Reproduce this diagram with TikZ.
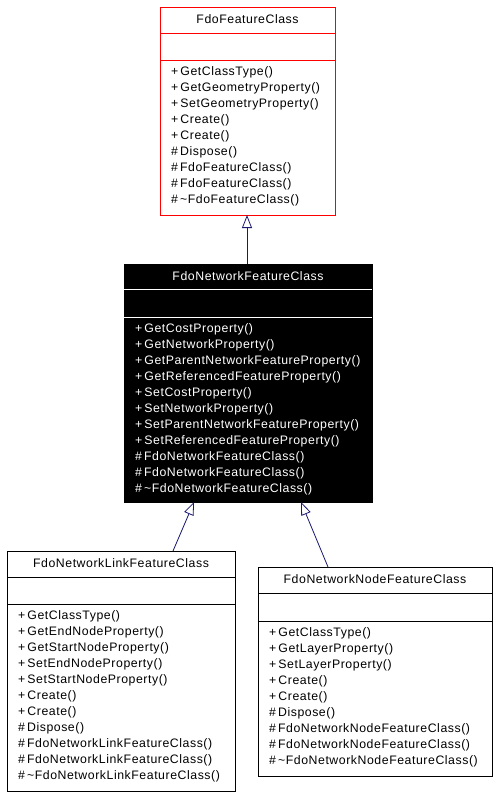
\documentclass[tikz,border=0pt]{standalone}
\usepackage{fontspec}
\setmainfont{Liberation Sans}[LetterSpace=4.5]
\usetikzlibrary{arrows.meta,calc}
\definecolor{edgeblue}{RGB}{25,25,112}
\definecolor{boxred}{RGB}{255,0,0}
\begin{document}
\begin{tikzpicture}[x=1pt,y=-1pt,
  box/.style={draw, line width=0.8pt, anchor=north west, inner sep=0pt, outer sep=0pt},
  txt/.style={anchor=west, inner sep=0pt, text height=9.5pt, text depth=2.5pt, font=\fontsize{12.3}{14}\selectfont},
  ttl/.style={anchor=center, inner sep=0pt, text height=9.5pt, text depth=2.5pt, font=\fontsize{12.3}{14}\selectfont},
  sep/.style={line width=0.8pt},
  inh/.style={draw=edgeblue, line width=0.8pt, -{Triangle[open,length=13pt,width=10pt,fill=white]}}]
\useasboundingbox (0,0) rectangle (499,797);

% ---------- FdoFeatureClass ----------
\node[box, draw=boxred, fill=white, minimum width=175pt, minimum height=208pt] (fc) at (160,7) {};
\draw[sep, boxred] (160,33) -- (335,33);
\draw[sep, boxred] (160,60) -- (335,60);
\node[ttl] (fct) at (247.5,20) {FdoFeatureClass};
\foreach \t [count=\i from 0] in {+\,GetClassType(), +\,GetGeometryProperty(), +\,SetGeometryProperty(), +\,Create(), +\,Create(), \#\,Dispose(), \#\,FdoFeatureClass(), \#\,FdoFeatureClass(), \#\,\textasciitilde FdoFeatureClass()}
  \node[txt] (fcl\i) at (171,72+16*\i) {\t};

% ---------- FdoNetworkFeatureClass ----------
\node[box, draw=black, fill=black, minimum width=248pt, minimum height=238pt] (nfc) at (124,264) {};
\draw[sep, white] (124,289) -- (372,289);
\draw[sep, white] (124,317) -- (372,317);
\node[ttl, text=white] (nfct) at (248,276.5) {FdoNetworkFeatureClass};
\foreach \t [count=\i from 0] in {+\,GetCostProperty(), +\,GetNetworkProperty(), +\,GetParentNetworkFeatureProperty(), +\,GetReferencedFeatureProperty(), +\,SetCostProperty(), +\,SetNetworkProperty(), +\,SetParentNetworkFeatureProperty(), +\,SetReferencedFeatureProperty(), \#\,FdoNetworkFeatureClass(), \#\,FdoNetworkFeatureClass(), \#\,\textasciitilde FdoNetworkFeatureClass()}
  \node[txt, text=white] (nfcl\i) at (135,329+16*\i) {\t};

% ---------- FdoNetworkLinkFeatureClass ----------
\node[box, draw=black, fill=white, minimum width=228pt, minimum height=240pt] (lfc) at (7,551) {};
\draw[sep] (7,577) -- (235,577);
\draw[sep] (7,604) -- (235,604);
\node[ttl] (lfct) at (121,564) {FdoNetworkLinkFeatureClass};
\foreach \t [count=\i from 0] in {+\,GetClassType(), +\,GetEndNodeProperty(), +\,GetStartNodeProperty(), +\,SetEndNodeProperty(), +\,SetStartNodeProperty(), +\,Create(), +\,Create(), \#\,Dispose(), \#\,FdoNetworkLinkFeatureClass(), \#\,FdoNetworkLinkFeatureClass(), \#\,\textasciitilde FdoNetworkLinkFeatureClass()}
  \node[txt] (lfcl\i) at (18,616+16*\i) {\t};

% ---------- FdoNetworkNodeFeatureClass ----------
\node[box, draw=black, fill=white, minimum width=234pt, minimum height=209pt] (nnc) at (258,567) {};
\draw[sep] (258,593) -- (492,593);
\draw[sep] (258,621) -- (492,621);
\node[ttl] (nnct) at (375,580) {FdoNetworkNodeFeatureClass};
\foreach \t [count=\i from 0] in {+\,GetClassType(), +\,GetLayerProperty(), +\,SetLayerProperty(), +\,Create(), +\,Create(), \#\,Dispose(), \#\,FdoNetworkNodeFeatureClass(), \#\,FdoNetworkNodeFeatureClass(), \#\,\textasciitilde FdoNetworkNodeFeatureClass()}
  \node[txt] (nncl\i) at (269,633+16*\i) {\t};

% ---------- inheritance ----------
\draw[inh] ($(nfc.north west)+(123,0)$) -- ($(fc.south west)+(87,0)$);
\draw[inh] ($(lfc.north west)+(166,0)$) -- ($(nfc.south west)+(70,0)$);
\draw[inh] ($(nnc.north west)+(70,0)$) -- ($(nfc.south west)+(177,0)$);
\end{tikzpicture}
\end{document}
